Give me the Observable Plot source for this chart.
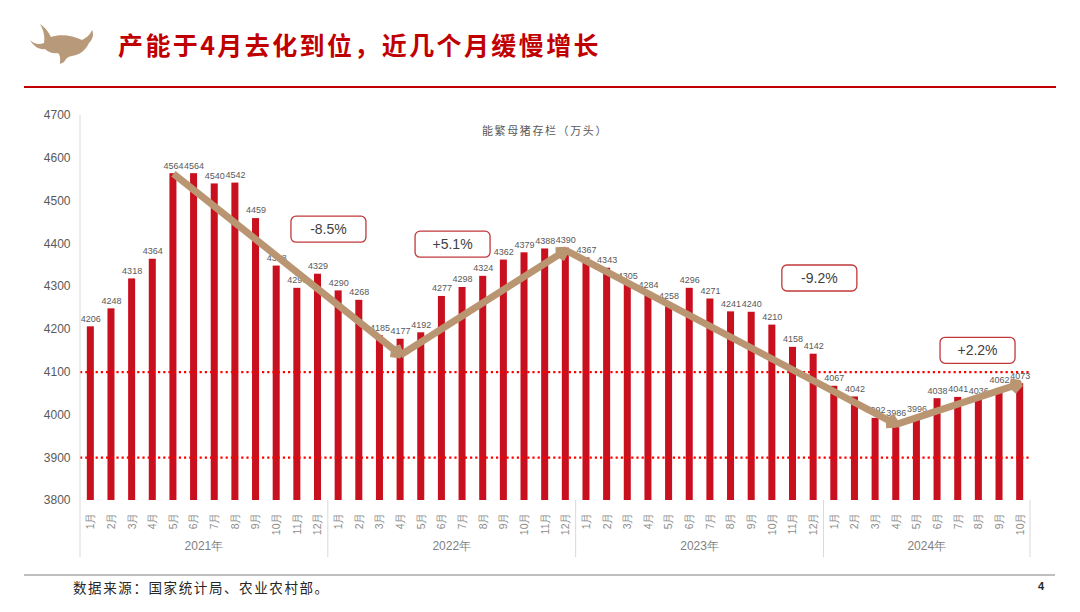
<!DOCTYPE html>
<html><head><meta charset="utf-8">
<script src="https://cdn.jsdelivr.net/npm/d3@7"></script>
<script src="https://cdn.jsdelivr.net/npm/@observablehq/plot@0.6"></script>
<style>
html,body{margin:0;padding:0;background:#fff;}
body{width:1080px;height:612px;position:relative;overflow:hidden;font-family:"Noto Sans CJK SC","Noto Sans",sans-serif;}
#title{position:absolute;left:118px;top:26px;font-size:25px;font-weight:700;color:#c00000;letter-spacing:2.4px;line-height:36px;white-space:nowrap;}
#topline{position:absolute;left:24px;top:86px;width:1032px;height:2px;background:#c00000;}
#sub{position:absolute;left:482px;top:121px;font-size:11px;color:#595959;letter-spacing:1.6px;white-space:nowrap;line-height:18px;}
#chart{position:absolute;left:0;top:100px;}
#botline{position:absolute;left:24px;top:574px;width:1031px;height:1.5px;background:#bfbfbf;}
#src{position:absolute;left:73px;top:577px;font-size:13.5px;color:#262626;letter-spacing:1.6px;white-space:nowrap;line-height:20px;}
#page{position:absolute;left:1038px;top:580px;font-size:11px;font-weight:700;color:#262626;font-family:"Liberation Sans",Arial,sans-serif;}
#logo{position:absolute;left:26px;top:20px;}
</style></head><body>
<svg id="logo" width="75" height="45" viewBox="0 0 75 45">
<path fill="#b89a7a" d="M4,20 C8,24 13,25 18,23 C19,17 18,11 14,4 C20,8 23,13 25,17 C34,14 46,15 56,20 C60,18 64,15 66,10 C68,14 67,19 63,23 C60,29 56,33 50,35 L46,36 C43,36 40,38 38,42 L34,44 C34,40 35,36 32,33 C27,34 22,32 19,29 C14,30 8,27 4,20 Z"/>
</svg>
<div id="title">产能于4月去化到位，近几个月缓慢增长</div>
<div id="topline"></div>
<div id="sub">能繁母猪存栏（万头）</div>
<div id="chart"></div>
<div id="botline"></div>
<div id="src">数据来源：国家统计局、农业农村部。</div>
<div id="page">4</div>
<script>
// ---- data ----
const years = ["2021", "2022", "2023", "2024"];
const months = ["1月","2月","3月","4月","5月","6月","7月","8月","9月","10月","11月","12月"];
const sow2021 = [4206, 4248, 4318, 4364, 4564, 4564, 4540, 4542, 4459, 4348, 4296, 4329];
const sow2022 = [4290, 4268, 4185, 4177, 4192, 4277, 4298, 4324, 4362, 4379, 4388, 4390];
const sow2023 = [4367, 4343, 4305, 4284, 4258, 4296, 4271, 4241, 4240, 4210, 4158, 4142];
const sow2024 = [4067, 4042, 3992, 3986, 3996, 4038, 4041, 4036, 4062, 4073];
const yTicks = [3800, 3900, 4000, 4100, 4200, 4300, 4400, 4500, 4600, 4700];
const refLines = [4100, 3900];
// trend arrows
const trendStart = ["2021-5月", "2022-4月", "2022-12月", "2024-4月"];
const trendStartValue = [4564, 4140, 4385, 3978];
const trendEnd = ["2022-4月", "2022-12月", "2024-4月", "2024-10月"];
const trendEndValue = [4140, 4385, 3978, 4073];
// change annotations
const changeLabels = ["-8.5%", "+5.1%", "-9.2%", "+2.2%"];
const changeAt = ["2022-1月", "2022-7月", "2023-12月", "2024-8月"];
const changeShift = [-0.47, -0.46, 0.3, -0.04];
const changeValue = [4433, 4398, 4319, 4150];

// ---- build table ----
const series = [sow2021, sow2022, sow2023, sow2024];
const data = [];
years.forEach((y, yi) => series[yi].forEach((v, mi) => data.push({key: `${y}-${months[mi]}`, year: y, month: months[mi], value: v})));
const keys = data.map(d => d.key);
const trend = trendStart.map((s, i) => ({x1: s, y1: trendStartValue[i], x2: trendEnd[i], y2: trendEndValue[i]}));

const numFont = "Liberation Sans, Arial, sans-serif";
const chart = Plot.plot({
  width: 1080, height: 465,
  marginLeft: 80, marginRight: 50, marginTop: 15, marginBottom: 65,
  style: {fontFamily: numFont, background: "transparent"},
  x: {type: "band", domain: keys, paddingInner: 0.66, paddingOuter: 0.33, round: false, label: null},
  y: {domain: [3800, 4700], label: null},
  marks: [
    Plot.barY(data, {x: "key", y1: 3800, y2: "value", fill: "#c8101e"}),
    Plot.ruleY(refLines, {stroke: "#ff0000", strokeWidth: 2.2, strokeDasharray: "2.2,3"}),
    Plot.text(data, {x: "key", y: "value", text: d => String(d.value), dy: -8, fontSize: 9, fill: "#595959"}),
    Plot.axisY({ticks: yTicks, tickSize: 0, tickPadding: 10, fontSize: 12, color: "#595959", tickFormat: d => String(d)}),
    Plot.axisX({tickSize: 0, tickPadding: 12, tickRotate: -90, fontSize: 10.5, color: "#8c8c8c", tickFormat: k => k.split("-")[1]}),
    Plot.arrow(trend, {x1: "x1", y1: "y1", x2: "x2", y2: "y2", stroke: "#b99671", strokeWidth: 7, headLength: 2.2, strokeLinecap: "butt"})
  ]
});
document.getElementById("chart").appendChild(chart);

// ---- decorations using the chart's scales ----
const xs = chart.scale("x"), ys = chart.scale("y");
const bw = xs.bandwidth, step = xs.step;
const svg = d3.select(chart);
const g = svg.append("g");
const center = k => xs.apply(k) + bw / 2;
const plotBottom = ys.apply(3800), plotTop = ys.apply(4700);
// left axis line
g.append("line").attr("x1", 80).attr("x2", 80).attr("y1", plotTop).attr("y2", plotBottom + 57).attr("stroke", "#d9d9d9");
// year groups
years.forEach(y => {
  const ks = keys.filter(k => k.startsWith(y));
  const left = center(ks[0]) - step / 2, right = center(ks[ks.length - 1]) + step / 2;
  g.append("line").attr("x1", right).attr("x2", right).attr("y1", plotBottom).attr("y2", plotBottom + 57).attr("stroke", "#d9d9d9");
  g.append("text").attr("x", (left + right) / 2).attr("y", plotBottom + 50).attr("text-anchor", "middle")
    .attr("font-size", 12).attr("fill", "#7f7f7f").attr("font-family", numFont).text(y + "年");
});
// change boxes
changeLabels.forEach((lab, i) => {
  const cx = center(changeAt[i]) + changeShift[i] * step, cy = ys.apply(changeValue[i]);
  g.append("rect").attr("x", cx - 37.5).attr("y", cy - 13).attr("width", 75).attr("height", 26).attr("rx", 5)
    .attr("fill", "#fff").attr("stroke", "#c0393b").attr("stroke-width", 1.3);
  g.append("text").attr("x", cx).attr("y", cy).attr("dy", "0.36em").attr("text-anchor", "middle")
    .attr("font-size", 14).attr("fill", "#404040").attr("font-family", numFont).text(lab);
});
</script>
</body></html>
